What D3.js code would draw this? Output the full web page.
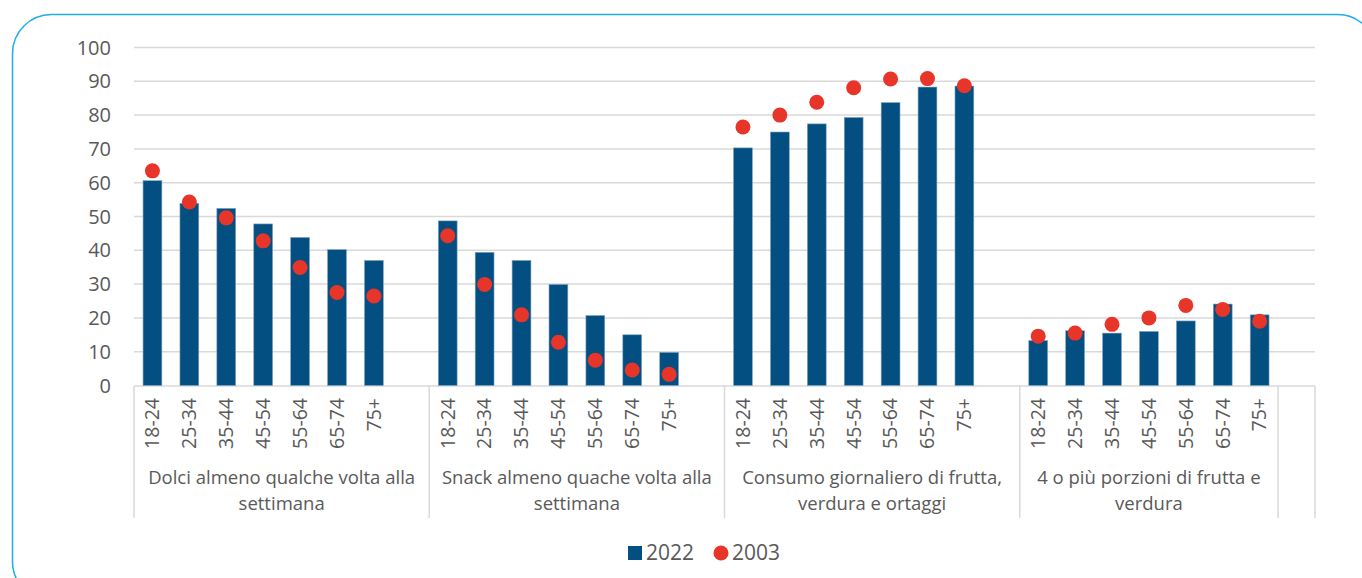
<!doctype html>
<html>
<head>
<meta charset="utf-8">
<style>
  body { margin: 0; background: #fff; }
  svg text { font-family: "Open Sans", Lato, sans-serif; fill: #595959; }
</style>
<script src="https://d3js.org/d3.v7.min.js"></script>
</head>
<body>
<svg width="1362" height="578"></svg>
<script>
// data
var ages = ["18-24", "25-34", "35-44", "45-54", "55-64", "65-74", "75+"];
var groups = [
  ["Dolci almeno qualche volta alla", "settimana"],
  ["Snack almeno quache volta alla", "settimana"],
  ["Consumo giornaliero di frutta,", "verdura e ortaggi"],
  ["4 o più porzioni di frutta e", "verdura"]
];
var v2022 = [
  [60.6, 53.9, 52.4, 47.8, 43.8, 40.2, 37.0],
  [48.7, 39.4, 37.0, 29.9, 20.7, 15.0, 9.8],
  [70.3, 75.0, 77.4, 79.3, 83.7, 88.3, 88.6],
  [13.3, 16.2, 15.5, 16.0, 19.1, 24.1, 20.9]
];
var v2003 = [
  [63.5, 54.3, 49.6, 42.8, 34.9, 27.5, 26.5],
  [44.3, 29.9, 20.9, 12.8, 7.5, 4.6, 3.3],
  [76.5, 80.0, 83.8, 88.1, 90.7, 90.8, 88.7],
  [14.6, 15.5, 18.1, 20.0, 23.7, 22.5, 19.0]
];
var yTicks = [0, 10, 20, 30, 40, 50, 60, 70, 80, 90, 100];
var seriesNames = ["2022", "2003"];

var svg = d3.select("svg");
var barColor = "#044f82", dotColor = "#e8352a", gridColor = "#d9d9d9";

// outer rounded frame
svg.append("rect")
   .attr("x", 12.5).attr("y", 14.5)
   .attr("width", 1364).attr("height", 586)
   .attr("rx", 39).attr("ry", 39)
   .attr("fill", "none")
   .attr("stroke", "#1eaee8")
   .attr("stroke-width", 1.5);

// one slot per age, plus an empty slot after every group
var keys = [];
groups.forEach(function(g, gi) {
  ages.forEach(function(a) { keys.push(gi + "|" + a); });
  keys.push(gi + "|gap");
});

var x = d3.scaleBand().domain(keys).range([134, 1315]).padding(0);
var y = d3.scaleLinear().domain([0, 100]).range([385.5, 47.5]);
var bw = x.bandwidth() * 0.51;

// gridlines + y labels
svg.append("g")
   .selectAll("line")
   .data(yTicks.filter(function(t) { return t > 0; }))
   .enter().append("line")
   .attr("x1", 134).attr("x2", 1315)
   .attr("y1", function(d) { return y(d); })
   .attr("y2", function(d) { return y(d); })
   .attr("stroke", gridColor).attr("stroke-width", 1.5);

svg.append("g")
   .selectAll("text")
   .data(yTicks)
   .enter().append("text")
   .attr("x", 111)
   .attr("y", function(d) { return y(d); })
   .attr("dy", "0.35em")
   .attr("text-anchor", "end")
   .attr("font-size", "20px")
   .text(function(d) { return d; });

// category axis line
svg.append("line")
   .attr("x1", 134).attr("x2", 1315)
   .attr("y1", 386).attr("y2", 386)
   .attr("stroke", gridColor).attr("stroke-width", 1.5);

// group separators: start of each group, end of last group's ages, end of axis
var seps = groups.map(function(g, gi) { return x(gi + "|" + ages[0]); });
seps.push(x((groups.length - 1) + "|gap"));
seps.push(1315);
svg.append("g")
   .selectAll("line")
   .data(seps)
   .enter().append("line")
   .attr("x1", function(d) { return d; })
   .attr("x2", function(d) { return d; })
   .attr("y1", 386).attr("y2", 518)
   .attr("stroke", gridColor).attr("stroke-width", 1.5);

// flatten into points
var pts = [];
groups.forEach(function(g, gi) {
  ages.forEach(function(a, ai) {
    pts.push({ key: gi + "|" + a, age: a, v22: v2022[gi][ai], v03: v2003[gi][ai] });
  });
});

// bars
svg.append("g")
   .selectAll("rect")
   .data(pts)
   .enter().append("rect")
   .attr("x", function(d) { return x(d.key) + (x.bandwidth() - bw) / 2; })
   .attr("y", function(d) { return y(d.v22); })
   .attr("width", bw)
   .attr("height", function(d) { return y(0) - y(d.v22); })
   .attr("fill", barColor)
   .attr("stroke", "#7fa3c0")
   .attr("stroke-width", 0.6);

// dots
svg.append("g")
   .selectAll("circle")
   .data(pts)
   .enter().append("circle")
   .attr("cx", function(d) { return x(d.key) + x.bandwidth() / 2; })
   .attr("cy", function(d) { return y(d.v03); })
   .attr("r", 7.5)
   .attr("fill", dotColor);

// rotated age labels
svg.append("g")
   .selectAll("text")
   .data(pts)
   .enter().append("text")
   .attr("transform", function(d) {
     return "translate(" + (x(d.key) + x.bandwidth() / 2) + ",398) rotate(-90)";
   })
   .attr("dy", "0.35em")
   .attr("text-anchor", "end")
   .attr("font-size", "19.5px")
   .text(function(d) { return d.age; });

// group labels
groups.forEach(function(g, gi) {
  var x0 = x(gi + "|" + ages[0]);
  var x1 = gi < groups.length - 1 ? x((gi + 1) + "|" + ages[0]) : x(gi + "|gap");
  var t = svg.append("text")
     .attr("x", (x0 + x1) / 2)
     .attr("text-anchor", "middle")
     .attr("font-size", "18.5px");
  g.forEach(function(line, li) {
    t.append("tspan")
     .attr("x", (x0 + x1) / 2)
     .attr("y", 484 + li * 26)
     .text(line);
  });
});

// legend
var lg = svg.append("g").attr("transform", "translate(628,553)");
lg.append("rect").attr("x", 0).attr("y", -7).attr("width", 14).attr("height", 14).attr("fill", barColor);
lg.append("text").attr("x", 18).attr("dy", "0.35em").attr("font-size", "21px").text(seriesNames[0]);
lg.append("circle").attr("cx", 93).attr("cy", 0).attr("r", 7.5).attr("fill", dotColor);
lg.append("text").attr("x", 104).attr("dy", "0.35em").attr("font-size", "21px").text(seriesNames[1]);
</script>
</body>
</html>
